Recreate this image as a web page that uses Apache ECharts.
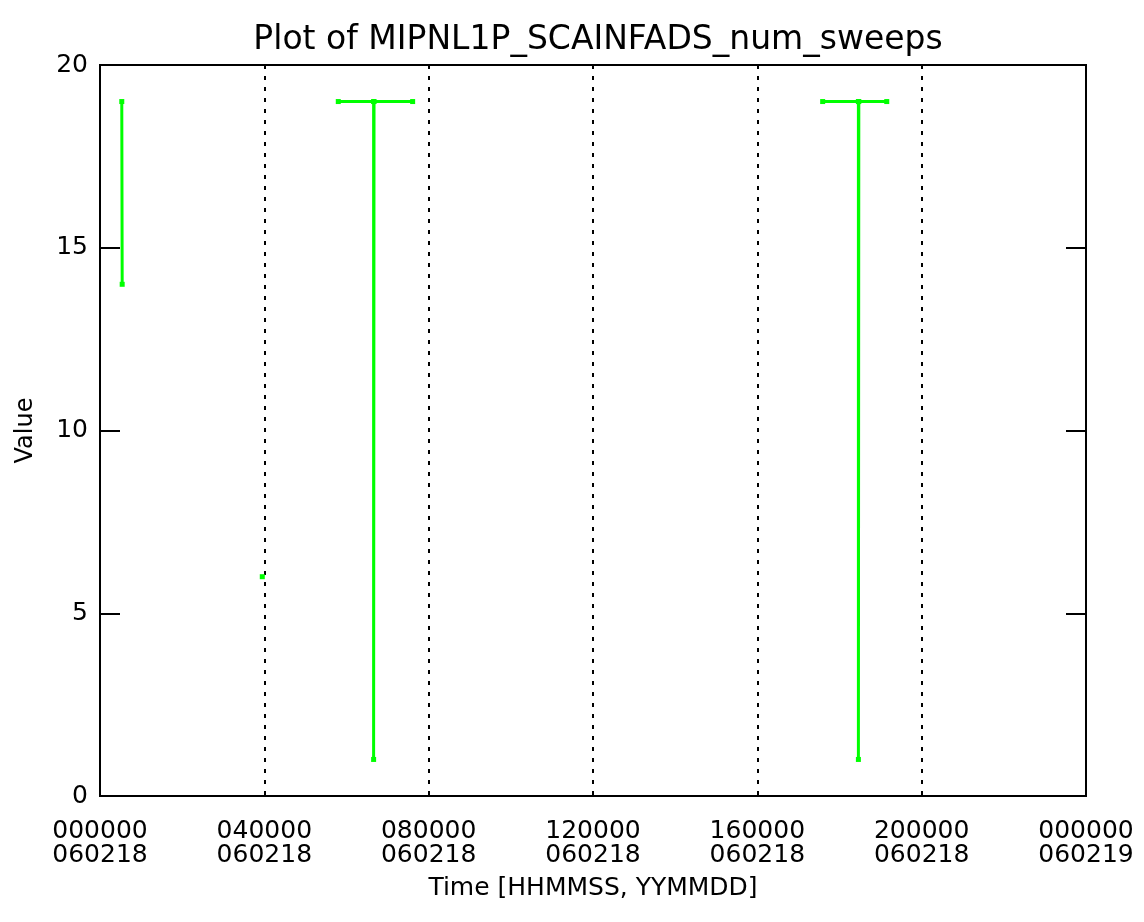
<!DOCTYPE html>
<html>
<head>
<meta charset="utf-8">
<script src="https://cdn.jsdelivr.net/npm/echarts@6/dist/echarts.min.js"></script>
<style>
	html, body { margin: 0; padding: 0; background: #fff; }
	#chart { width: 1144px; height: 922px; }
</style>
</head>
<body>
<div id="chart"></div>
<script>
"use strict";

// time in hours since 000000 060218, null breaks the line
var hours  = [0.53, 0.54, null, 3.95, null, 5.80, 6.66, 6.66, 6.67, 7.61, null, 17.59, 18.46, 18.46, 18.47, 19.15];
var sweeps = [19,   14,   null, 6,    null, 19,   19,   1,    19,   19,   null, 19,    19,    1,     19,    19];

var timeLabels = ['000000', '040000', '080000', '120000', '160000', '200000', '000000'];
var dateLabels = ['060218', '060218', '060218', '060218', '060218', '060218', '060219'];
var valueTicks = [0, 5, 10, 15, 20];

var FONT = 'DejaVu Sans';

function buildData() {
	var data = [];
	for (var i = 0; i < hours.length; i++) {
		if (hours[i] === null) {
			data.push([hours[i - 1], '-']);
		} else {
			data.push([hours[i], sweeps[i]]);
		}
	}
	return data;
}

var chart = echarts.init(document.getElementById('chart'));

chart.setOption({
	backgroundColor: '#fff',
	animation: false,
	title: {
		text: 'Plot of MIPNL1P_SCAINFADS_num_sweeps',
		left: 593,
		textAlign: 'center',
		top: 19,
		textStyle: { fontFamily: FONT, fontSize: 33, fontWeight: 'normal', color: '#000' }
	},
	grid: {
		left: 100,
		right: 58,
		top: 65,
		bottom: 126,
		show: true,
		borderColor: '#000',
		borderWidth: 2
	},
	xAxis: [{
		type: 'value',
		min: 0,
		max: 24,
		interval: 4,
		name: 'Time [HHMMSS, YYMMDD]',
		nameLocation: 'middle',
		nameGap: 80,
		nameTextStyle: { fontFamily: FONT, fontSize: 25, color: '#000' },
		axisLine: { show: true, lineStyle: { color: '#000', width: 2 } },
		axisTick: { show: false },
		axisLabel: {
			margin: 23,
			lineHeight: 24,
			fontFamily: FONT,
			fontSize: 25,
			color: '#000',
			showMinLabel: true,
			showMaxLabel: true,
			formatter: function(v) {
				var i = Math.round(v / 4);
				return timeLabels[i] + '\n' + dateLabels[i];
			}
		},
		splitLine: {
			show: true,
			lineStyle: { color: '#000', width: 2, type: [4, 7] }
		}
	}],
	yAxis: [{
		type: 'value',
		min: valueTicks[0],
		max: valueTicks[valueTicks.length - 1],
		interval: 5,
		name: 'Value',
		nameLocation: 'middle',
		nameGap: 62,
		nameTextStyle: { fontFamily: FONT, fontSize: 24, color: '#000' },
		axisLine: { show: true, lineStyle: { color: '#000', width: 2 } },
		axisTick: { show: true, inside: true, length: 20, lineStyle: { color: '#000', width: 2 } },
		axisLabel: { margin: 12, fontFamily: FONT, fontSize: 25, color: '#000' },
		splitLine: { show: false }
	}, {
		type: 'value',
		position: 'right',
		min: valueTicks[0],
		max: valueTicks[valueTicks.length - 1],
		interval: 5,
		axisLine: { show: true, lineStyle: { color: '#000', width: 2 } },
		axisTick: { show: true, inside: true, length: 20, lineStyle: { color: '#000', width: 2 } },
		axisLabel: { show: false },
		splitLine: { show: false }
	}],
	series: [{
		name: 'num_sweeps',
		type: 'line',
		data: buildData(),
		connectNulls: false,
		showSymbol: true,
		symbol: 'rect',
		symbolSize: 5,
		itemStyle: { color: '#00ff00' },
		lineStyle: { color: '#00ff00', width: 3 }
	}]
});
</script>
</body>
</html>
